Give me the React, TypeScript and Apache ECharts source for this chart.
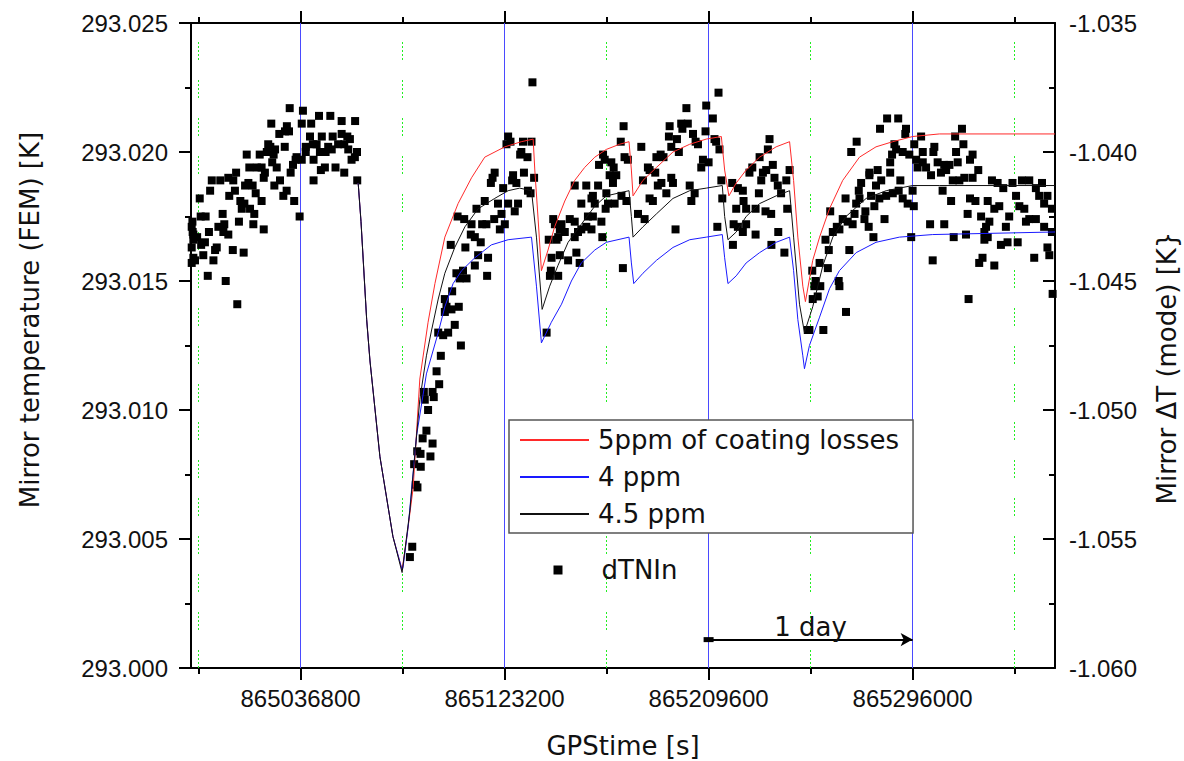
import React, { useEffect, useRef } from "react";
import * as echarts from "echarts";

const TICK_FONT = '"Liberation Sans", Arial, sans-serif';
const TEXT_FONT = '"DejaVu Sans", sans-serif';

const xMin = 864990400;
const xMax = 865356300;
const dayTicks = [865036800, 865123200, 865209600, 865296000];
const halfDayTicks = [864993600, 865080000, 865166400, 865252800, 865339200];
const leftMin = 293.0;
const leftMax = 293.025;
const rightMin = -1.06;
const rightMax = -1.035;
const yStep = 0.005;

const seriesNames = ["5ppm of coating losses", "4 ppm", "4.5 ppm", "dTNIn"];
const axisTitles = { x: "GPStime [s]", left: "Mirror temperature (FEM) [K]", right: "Mirror \u0394T (mode) [K}" };
const dayArrow = { start: 865209600, end: 865296000, level: 293.0011, label: "1 day" };

const model5ppm: [number, number][] = [
  [865061200, 293.0188], [865062400, 293.0173], [865064800, 293.0135], [865066200, 293.0119], [865070400, 293.0082],
  [865075900, 293.0051], [865079800, 293.0038], [865081700, 293.005], [865084500, 293.007], [865087300, 293.0112],
  [865090800, 293.0134], [865093700, 293.0149], [865097900, 293.0167], [865103500, 293.018], [865109200, 293.019],
  [865114800, 293.0198], [865123300, 293.0202], [865130300, 293.0204], [865135300, 293.0205], [865136000, 293.0193],
  [865137400, 293.0174], [865138800, 293.0154], [865141600, 293.0162], [865144400, 293.0171], [865148700, 293.0181],
  [865152900, 293.0189], [865157100, 293.0194], [865161400, 293.0198], [865166300, 293.0201], [865171900, 293.0203],
  [865175900, 293.0204], [865176900, 293.0193], [865177600, 293.0183], [865181800, 293.0189], [865187500, 293.0194],
  [865194500, 293.02], [865201600, 293.0203], [865208600, 293.0205], [865215000, 293.0206], [865216400, 293.0193],
  [865218200, 293.0183], [865221300, 293.0188], [865225500, 293.0193], [865231200, 293.0198], [865238200, 293.0202],
  [865243900, 293.0204], [865245600, 293.0189], [865247400, 293.0167], [865249500, 293.0148], [865250600, 293.0142],
  [865253700, 293.0158], [865256600, 293.0167], [865260800, 293.0178], [865266400, 293.0189], [865273500, 293.0198],
  [865280500, 293.0202], [865287600, 293.0204], [865296000, 293.0206], [865307300, 293.0207], [865356300, 293.0207],
];

const model4ppm: [number, number][] = [
  [865061200, 293.0188], [865062400, 293.0173], [865064800, 293.0135], [865066200, 293.0119], [865070400, 293.0082],
  [865075900, 293.0051], [865079800, 293.0038], [865080200, 293.0039], [865082400, 293.0055], [865085900, 293.009],
  [865090100, 293.0114], [865095100, 293.013], [865097900, 293.014], [865101400, 293.0149], [865105000, 293.0154],
  [865110600, 293.0159], [865117600, 293.0164], [865124700, 293.0166], [865134600, 293.0167], [865136700, 293.0148],
  [865138800, 293.0126], [865143000, 293.0134], [865147300, 293.0141], [865151500, 293.015], [865155700, 293.0157],
  [865161400, 293.0162], [865166300, 293.0165], [865175900, 293.0167], [865176900, 293.0157], [865177900, 293.0149],
  [865181800, 293.0153], [865187500, 293.0158], [865194500, 293.0163], [865201600, 293.0166], [865208600, 293.0167],
  [865215400, 293.0168], [865216400, 293.0159], [865217800, 293.0149], [865221300, 293.0152], [865225500, 293.0157],
  [865231200, 293.0161], [865238200, 293.0165], [865243900, 293.0167], [865245600, 293.0154], [865247400, 293.0135],
  [865249500, 293.0121], [865250200, 293.0116], [865252300, 293.0125], [865256600, 293.0136], [865260800, 293.0147],
  [865265000, 293.0154], [865272100, 293.0161], [865280500, 293.0165], [865290400, 293.0167], [865304500, 293.0168],
  [865356300, 293.0169],
];

const model45ppm: [number, number][] = [
  [865061200, 293.0188], [865062400, 293.0173], [865064800, 293.0135], [865066200, 293.0119], [865070400, 293.0082],
  [865075900, 293.0051], [865079800, 293.0037], [865083100, 293.0061], [865087300, 293.0104], [865090100, 293.0121],
  [865092300, 293.0131], [865095100, 293.0143], [865097900, 293.0153], [865102100, 293.0163], [865106400, 293.0171],
  [865112000, 293.0178], [865119000, 293.0182], [865124700, 293.0185], [865129600, 293.0186], [865134600, 293.0185],
  [865136700, 293.0167], [865139100, 293.0139], [865142300, 293.0148], [865145800, 293.0156], [865150100, 293.0165],
  [865155700, 293.0172], [865161400, 293.0179], [865166300, 293.0183], [865175900, 293.0185], [865176900, 293.0175],
  [865177600, 293.0167], [865181800, 293.0171], [865187500, 293.0176], [865194500, 293.0182], [865201600, 293.0185],
  [865208600, 293.0186], [865215400, 293.0187], [865216400, 293.0175], [865217800, 293.0166], [865221300, 293.0169],
  [865225500, 293.0175], [865231200, 293.018], [865238200, 293.0183], [865243900, 293.0185], [865245600, 293.0167],
  [865248100, 293.0141], [865250200, 293.013], [865253700, 293.014], [865258000, 293.0156], [865262200, 293.0167],
  [865267800, 293.0175], [865276300, 293.0182], [865284800, 293.0185], [865296000, 293.0187], [865307300, 293.0187],
  [865356300, 293.0187],
];

const dTNIn: [number, number][] = [
  // first day
  [865032200, 293.0217], [865037800, 293.0216], [865044600, 293.0214], [865049400, 293.0214], [865054200, 293.0212],
  [865059900, 293.0212], [865024400, 293.0211], [865037300, 293.0211], [865041300, 293.0211], [865031000, 293.021],
  [865030200, 293.0208], [865027800, 293.0207], [865031900, 293.0208], [865040800, 293.0206], [865045800, 293.0206],
  [865050400, 293.0206], [865054200, 293.0207], [865056600, 293.0206], [865057700, 293.0205], [865042000, 293.0203],
  [865043600, 293.0203], [865039000, 293.0202], [865048500, 293.0202], [865052700, 293.0203], [865055300, 293.0203],
  [865023100, 293.0203], [865024000, 293.0202], [865026000, 293.0201], [865030100, 293.0202], [865022500, 293.02],
  [865019500, 293.0199], [865014000, 293.0199], [865025400, 293.0199], [865039000, 293.02], [865045000, 293.02],
  [865047400, 293.02], [865050000, 293.0201], [865057000, 293.0201], [865060700, 293.02], [865035100, 293.0198],
  [865037300, 293.0197], [865042300, 293.0197], [865058400, 293.0197], [865059800, 293.0198], [865024800, 293.0196],
  [865026700, 293.0194], [865015100, 293.0194], [865018300, 293.0194], [865020300, 293.0194], [865033600, 293.0195],
  [865034700, 293.0197], [865032600, 293.0192], [865047100, 293.0194], [865045400, 293.0193], [865051600, 293.0194],
  [865055300, 293.0192], [865009500, 293.0192], [865021700, 293.0192], [865021200, 293.019], [865028100, 293.0189],
  [865025700, 293.0187], [865006200, 293.019], [865008300, 293.0189], [864999200, 293.0189], [865002800, 293.0189],
  [865042300, 293.0189], [865060800, 293.0189], [865014700, 293.0188], [865016500, 293.0187], [865013300, 293.0187],
  [865009000, 293.0185], [864998500, 293.0185], [865006600, 293.0183], [865030900, 293.0185], [865029500, 293.0183],
  [865017800, 293.0184], [864994100, 293.0182], [865034100, 293.0181], [865020300, 293.0181], [865011300, 293.0181],
  [865013000, 293.018], [865011900, 293.0178], [865015400, 293.0178], [865003800, 293.0176], [865017200, 293.0176],
  [864994500, 293.0175], [864996600, 293.0175], [865036400, 293.0175], [864991000, 293.0173], [865004500, 293.0172],
  [865010700, 293.0173], [865002000, 293.0171], [864998000, 293.0169], [865004100, 293.0169], [865006200, 293.0168],
  [865016800, 293.0172], [865021200, 293.017], [864991400, 293.0168], [864993000, 293.0167], [864994700, 293.0164],
  [864996300, 293.0165], [865001300, 293.0163], [865000600, 293.0162], [865008100, 293.0162], [865012700, 293.0161],
  [864990700, 293.0163], [864991400, 293.0159], [864995600, 293.016], [864992100, 293.0158], [864999900, 293.0158],
  [864997500, 293.0152], [865005100, 293.015], [865010000, 293.0141], [864990700, 293.0171], [864991100, 293.0169],
  [864991400, 293.0166], [864990700, 293.0157],
  // recovery after the big dip
  [865084100, 293.0047], [865083100, 293.0043], [865085600, 293.0071], [865086300, 293.007], [865087700, 293.0078],
  [865084900, 293.0079], [865091800, 293.0082], [865087600, 293.0083], [865086200, 293.0084], [865092700, 293.0087],
  [865088500, 293.0089], [865090100, 293.0092], [865090800, 293.01], [865093200, 293.0105], [865089400, 293.0104],
  [865092700, 293.0107], [865089000, 293.0107], [865095500, 293.011],
  [865135000, 293.0227], [865124700, 293.0206], [865124000, 293.0203], [865125700, 293.0204], [865131000, 293.0204],
  [865134600, 293.0204], [865130300, 293.02], [865132900, 293.0198], [865129800, 293.0199], [865131400, 293.0192],
  [865135700, 293.019], [865119000, 293.0192], [865118100, 293.019], [865117400, 293.0188], [865126800, 293.0191],
  [865126400, 293.0189], [865128200, 293.0188], [865122600, 293.0186], [865133100, 293.0185], [865134200, 293.0184],
  [865114800, 293.0181], [865111300, 293.0178], [865120400, 293.018], [865124700, 293.018], [865128900, 293.018],
  [865127500, 293.0177], [865103300, 293.0175], [865106100, 293.0174], [865109200, 293.0172], [865115500, 293.0172],
  [865118800, 293.0174], [865121900, 293.0176], [865123300, 293.0172], [865121200, 293.017], [865113700, 293.0172],
  [865108900, 293.0168], [865110600, 293.0167], [865113100, 293.0165], [865100400, 293.0164], [865106600, 293.0163],
  [865112000, 293.016], [865116200, 293.0159], [865110600, 293.0156], [865102800, 293.0153], [865105600, 293.0154],
  [865107100, 293.0151], [865104200, 293.0151], [865115800, 293.0152], [865101000, 293.0146], [865097900, 293.0143],
  [865098600, 293.014], [865100700, 293.0139], [865103800, 293.014], [865097900, 293.0138], [865102100, 293.0133],
  [865095100, 293.013], [865099300, 293.013], [865097200, 293.0129], [865104700, 293.0125], [865096200, 293.0121],
  [865094400, 293.0115],
  [865141000, 293.013], [865141900, 293.0166], [865143100, 293.0159], [865142800, 293.0154], [865142400, 293.0152],
  [865145900, 293.0152], [865143800, 293.0174], [865144500, 293.0172], [865147300, 293.0172], [865145900, 293.0167],
  [865146600, 293.017], [865148700, 293.0169], [865150800, 293.0174], [865152900, 293.0173], [865154300, 293.0169],
  [865155700, 293.017], [865157800, 293.0171], [865158500, 293.0175], [865160000, 293.0182], [865155700, 293.018],
  [865152900, 293.0187], [865157800, 293.0187], [865146600, 293.016], [865150100, 293.0158], [865153600, 293.0161],
  [865155000, 293.0157], [865145200, 293.0166], [865152900, 293.0167],
  // third day
  [865213800, 293.0223], [865200200, 293.0217], [865208600, 293.0218], [865211400, 293.0213], [865173600, 293.021],
  [865193100, 293.021], [865198000, 293.0211], [865200800, 293.0211], [865198500, 293.0209], [865208300, 293.0208],
  [865192800, 293.0206], [865196200, 293.0205], [865203000, 293.0207], [865204100, 293.0204], [865205100, 293.0203],
  [865212100, 293.0205], [865212800, 293.0204], [865214200, 293.0201], [865172400, 293.0204], [865181100, 293.0202],
  [865193800, 293.0202], [865197000, 293.02], [865189300, 293.0199], [865190500, 293.0198], [865187500, 293.0198],
  [865174000, 293.0198], [865175400, 293.0197], [865164900, 293.0199], [865165600, 293.0197], [865163200, 293.0195],
  [865168400, 293.0196], [865169400, 293.0194], [865167700, 293.0191], [865170500, 293.0191], [865169100, 293.0188],
  [865162800, 293.0187], [865166300, 293.0184], [865160600, 293.0183], [865161400, 293.018], [865167000, 293.018],
  [865169800, 293.018], [865172700, 293.0183], [865174800, 293.0181], [865166000, 293.0178], [865160600, 293.0175],
  [865164200, 293.0173], [865160000, 293.017], [865164600, 293.0167], [865173300, 293.0155], [865179700, 293.0176],
  [865182500, 293.0174], [865195600, 293.017], [865184600, 293.0182], [865186000, 293.0181], [865191700, 293.0184],
  [865188100, 293.0187], [865189600, 293.0188], [865187000, 293.0192], [865184600, 293.0193], [865181800, 293.0189],
  [865193800, 293.019], [865194500, 293.0188], [865201600, 293.0187], [865203700, 293.0184], [865202300, 293.0181],
  [865206500, 293.0194], [865207200, 293.0197], [865209600, 293.0196], [865213300, 293.0171], [865215000, 293.0189],
  [865215400, 293.0182], [865219600, 293.0188], [865222000, 293.0186], [865224100, 293.0185], [865221300, 293.0178],
  [865224400, 293.0181], [865225500, 293.0178], [865229500, 293.0178], [865220200, 293.0172], [865222000, 293.0171],
  [865225500, 293.0172], [865224100, 293.0169], [865229500, 293.0168], [865219900, 293.0164], [865226900, 293.0192],
  [865228100, 293.0194], [865231200, 293.0198], [865234700, 293.0201], [865235400, 293.0205], [865232600, 293.0192],
  [865234000, 293.0193], [865236800, 293.0195], [865231900, 293.0189], [865237500, 293.019], [865238900, 293.0187],
  [865240300, 293.0184], [865242500, 293.0189], [865243900, 293.0193], [865230900, 293.0184], [865233700, 293.0177],
  [865236100, 293.0176], [865242900, 293.0178], [865239100, 293.0169], [865236200, 293.0164], [865241700, 293.0161],
  [865251600, 293.0131], [865183900, 293.0194],
  // fourth day and after
  [865285200, 293.0213], [865289900, 293.0213], [865282200, 293.0209], [865293200, 293.0209], [865292900, 293.0207],
  [865316900, 293.0209], [865314000, 293.0206], [865299600, 293.0206], [865296700, 293.0203], [865272300, 293.0204],
  [865270000, 293.02], [865288300, 293.0203], [865289000, 293.0201], [865291800, 293.02], [865294600, 293.0199],
  [865287300, 293.0199], [865286500, 293.0196], [865300300, 293.02], [865305200, 293.0202], [865304800, 293.02],
  [865317500, 293.0203], [865314400, 293.02], [865321400, 293.0199], [865320300, 293.0197], [865297500, 293.0197],
  [865300300, 293.0196], [865298100, 293.0194], [865301700, 293.0194], [865303800, 293.0191], [865306600, 293.0196],
  [865309400, 293.0195], [865311600, 293.0195], [865308000, 293.0192], [865310200, 293.0193], [865315100, 293.0196],
  [865323800, 293.0193], [865321400, 293.019], [865277700, 293.0192], [865281200, 293.0193], [865277700, 293.0191],
  [865282700, 293.0189], [865286500, 293.0192], [865290800, 293.0189], [865280500, 293.0187], [865274200, 293.0188],
  [865273200, 293.0185], [865267600, 293.0182], [865273500, 293.0182], [865272100, 293.018], [865278400, 293.0183],
  [865281900, 293.0182], [865284800, 293.0183], [865287600, 293.0184], [865290100, 293.0185], [865291800, 293.0182],
  [865296000, 293.0185], [865293900, 293.018], [865296500, 293.0179], [865279800, 293.0179], [865276000, 293.0177],
  [865271400, 293.0176], [865266400, 293.0174], [865268500, 293.0173], [865270600, 293.0172], [865263900, 293.0171],
  [865262200, 293.0169], [865265000, 293.017], [865275600, 293.0174], [865277400, 293.0171], [865284100, 293.0174],
  [865279400, 293.0167], [865259100, 293.0166], [865261100, 293.0177], [865269200, 293.0162], [865260500, 293.0162],
  [865260100, 293.0155], [865256600, 293.0157], [865253500, 293.0154], [865254900, 293.015], [865254400, 293.0148],
  [865256900, 293.0148], [865253700, 293.0143], [865255800, 293.0144], [865264700, 293.015], [865265000, 293.0148],
  [865267800, 293.0138], [865252300, 293.0131], [865258200, 293.0131], [865303400, 293.0172], [865309400, 293.0172],
  [865295400, 293.0167], [865304500, 293.0158], [865313400, 293.0167], [865318600, 293.0168], [865319700, 293.0143],
  [865312300, 293.0181], [865308700, 293.0185], [865313000, 293.0189], [865315800, 293.0189], [865317900, 293.019],
  [865319300, 293.0176], [865320300, 293.0182], [865322600, 293.0181], [865325000, 293.0175], [865327800, 293.0181],
  [865329600, 293.0189], [865332000, 293.0188], [865334400, 293.0186], [865338300, 293.0188], [865342300, 293.0189],
  [865345400, 293.0189], [865348200, 293.0186], [865350800, 293.0188], [865349600, 293.0183], [865353100, 293.0183],
  [865351700, 293.018], [865355000, 293.0178], [865339800, 293.0183], [865341200, 293.0179], [865343300, 293.0178],
  [865332700, 293.0179], [865330600, 293.0178], [865336900, 293.0175], [865345400, 293.0174], [865344000, 293.0173],
  [865348200, 293.0174], [865351700, 293.0171], [865335500, 293.0171], [865327100, 293.0171], [865328500, 293.0173],
  [865326400, 293.0169], [865327800, 293.0167], [865326400, 293.0166], [865333400, 293.0164], [865336200, 293.0165],
  [865340500, 293.0165], [865355000, 293.0169], [865353100, 293.0163], [865353900, 293.016], [865347500, 293.0159],
  [865324200, 293.0157], [865325600, 293.0159], [865330600, 293.0156], [865355300, 293.0145],
];

const BLACK = "#000";
const DAY_LINE = "#4a4aff";
const HALF_DAY_LINE = "#22ee22";
const axisLineStyle = { color: BLACK, width: 2 };
const tickLineStyle = { color: BLACK, width: 2 };
const dottedDash = [2, 2, 2, 2, 2, 2, 2, 2, 2, 20];

function buildOption() {
  const tickAxis = (position: string, values: number[], length: number, showLine: boolean, labels: boolean) => ({
    type: "value",
    position,
    min: xMin,
    max: xMax,
    axisLine: { show: showLine, onZero: false, lineStyle: axisLineStyle },
    axisTick: { show: true, inside: false, length, lineStyle: tickLineStyle, customValues: values },
    axisLabel: labels
      ? {
          show: true,
          customValues: values,
          formatter: (v: number) => String(Math.round(v)),
          fontFamily: TICK_FONT,
          fontSize: 24,
          color: "#111",
          margin: 18,
        }
      : { show: false },
    splitLine: { show: false },
    minorSplitLine: { show: false },
  });

  const yCommon = {
    type: "value",
    interval: yStep,
    splitLine: { show: false },
    minorSplitLine: { show: false },
    axisLine: { show: true, onZero: false, lineStyle: axisLineStyle },
    minorTick: { show: true, splitNumber: 2, length: 6, lineStyle: tickLineStyle },
  };

  const legendText = { fontFamily: TEXT_FONT, fontSize: 26, color: "#111", lineHeight: 24 };
  const hiddenSymbol = { color: "rgba(0,0,0,0)", borderColor: "rgba(0,0,0,0)", borderWidth: 0, opacity: 0 };

  const gridLines = [
    ...dayTicks.map((v) => ({ xAxis: v, lineStyle: { color: DAY_LINE, width: 1, type: "solid" } })),
    ...halfDayTicks.map((v) => ({ xAxis: v, lineStyle: { color: HALF_DAY_LINE, width: 1, type: dottedDash } })),
  ];

  const titleStyle = (text: string) => ({
    text,
    font: `26px ${TEXT_FONT}`,
    fill: "#111",
    align: "center",
    verticalAlign: "middle",
    textAlign: "center",
    textVerticalAlign: "middle",
  });

  return {
    animation: false,
    backgroundColor: "#ffffff",
    grid: { left: 191, right: 129, top: 23, bottom: 93, containLabel: false, outerBoundsMode: "none" },
    xAxis: [
      tickAxis("bottom", dayTicks, 12, true, true),
      tickAxis("top", dayTicks, 12, true, false),
      tickAxis("bottom", halfDayTicks, 6, false, false),
      tickAxis("top", halfDayTicks, 6, false, false),
    ],
    yAxis: [
      {
        ...yCommon,
        position: "left",
        min: leftMin,
        max: leftMax,
        axisTick: { show: true, inside: false, length: 12, lineStyle: tickLineStyle },
        axisLabel: {
          formatter: (v: number) => v.toFixed(3),
          fontFamily: TICK_FONT,
          fontSize: 24,
          color: "#111",
          margin: 23,
        },
      },
      {
        ...yCommon,
        position: "right",
        min: rightMin,
        max: rightMax,
        axisTick: { show: true, inside: true, length: 12, lineStyle: tickLineStyle },
        axisLabel: {
          formatter: (v: number) => v.toFixed(3),
          fontFamily: TICK_FONT,
          fontSize: 24,
          color: "#111",
          margin: 14,
        },
      },
    ],
    legend: [
      {
        data: seriesNames.slice(0, 3),
        orient: "vertical",
        left: 509,
        top: 420,
        z: 10,
        padding: [7, 14, 6, 10],
        itemWidth: 69,
        itemHeight: 14,
        itemGap: 11,
        borderColor: "#555",
        borderWidth: 1.5,
        backgroundColor: "#ffffff",
        selectedMode: false,
        itemStyle: hiddenSymbol,
        textStyle: { ...legendText, padding: [0, 0, 0, 4] },
      },
      {
        data: [seriesNames[3]],
        orient: "vertical",
        left: 553.5,
        top: 557,
        z: 10,
        padding: 0,
        itemWidth: 9,
        itemHeight: 9,
        selectedMode: false,
        textStyle: { ...legendText, padding: [0, 0, 0, 34] },
      },
    ],
    graphic: [
      { type: "text", x: 30, y: 320, rotation: Math.PI / 2, silent: true, style: titleStyle(axisTitles.left) },
      { type: "text", x: 1167, y: 368, rotation: Math.PI / 2, silent: true, style: titleStyle(axisTitles.right) },
      { type: "text", x: 623, y: 746, silent: true, style: titleStyle(axisTitles.x) },
    ],
    series: [
      {
        type: "line",
        name: "grid",
        data: [],
        z: 1,
        silent: true,
        markLine: {
          z: 1,
          silent: true,
          symbol: "none",
          label: { show: false },
          emphasis: { disabled: true },
          data: gridLines,
        },
      },
      {
        type: "scatter",
        name: seriesNames[3],
        data: dTNIn,
        symbol: "rect",
        symbolSize: 8,
        itemStyle: { color: BLACK, opacity: 1 },
        z: 3,
        markLine: {
          silent: true,
          symbol: ["rect", "arrow"],
          symbolSize: [5, 12],
          precision: 4,
          lineStyle: { color: BLACK, width: 2, type: "solid" },
          label: {
            show: true,
            position: "middle",
            formatter: dayArrow.label,
            fontFamily: TEXT_FONT,
            fontSize: 26,
            color: "#111",
            distance: 0,
          },
          emphasis: { disabled: true },
          data: [
            [
              { coord: [dayArrow.start, dayArrow.level], symbol: "rect", symbolSize: [5, 10] },
              { coord: [dayArrow.end, dayArrow.level], symbol: "arrow", symbolSize: [10, 12] },
            ],
          ],
        },
      },
      {
        type: "line",
        name: seriesNames[0],
        data: model5ppm,
        symbol: "none",
        showSymbol: false,
        lineStyle: { color: "#ff2a2a", width: 1 },
        itemStyle: { color: "#ff2a2a" },
        z: 4,
      },
      {
        type: "line",
        name: seriesNames[1],
        data: model4ppm,
        symbol: "none",
        showSymbol: false,
        lineStyle: { color: "#1a1aff", width: 1 },
        itemStyle: { color: "#1a1aff" },
        z: 4,
      },
      {
        type: "line",
        name: seriesNames[2],
        data: model45ppm,
        symbol: "none",
        showSymbol: false,
        lineStyle: { color: "#111", width: 1 },
        itemStyle: { color: "#111" },
        z: 4,
      },
    ],
  };
}

export default function App() {
  const ref = useRef<HTMLDivElement>(null);
  useEffect(() => {
    if (!ref.current) return;
    const chart = echarts.init(ref.current, undefined, { renderer: "svg" });
    chart.setOption(buildOption() as any);
    return () => {
      chart.dispose();
    };
  }, []);
  return (
    <div
      ref={ref}
      style={{ position: "fixed", left: 0, top: 0, width: 1184, height: 761, background: "#fff" }}
    />
  );
}
